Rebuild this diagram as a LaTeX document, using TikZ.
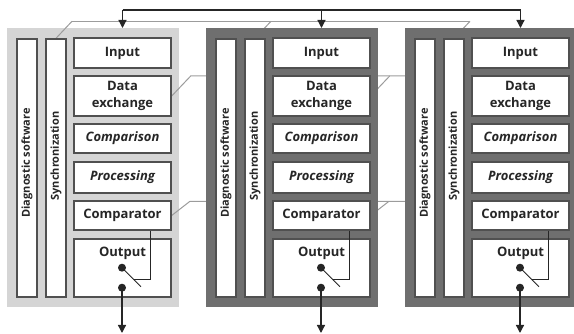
\documentclass[tikz,border=0pt]{standalone}
\usepackage{fontspec}
\setmainfont{Open Sans}
\usetikzlibrary{arrows.meta,calc}
\definecolor{panel}{HTML}{D5D5D5}
\definecolor{frame}{HTML}{6F6F6F}
\definecolor{edge}{HTML}{505050}
\definecolor{bus}{HTML}{9C9C9C}
\definecolor{ink}{HTML}{262626}
\pgfdeclarelayer{back}
\pgfdeclarelayer{wires}
\pgfsetlayers{back,wires,main}

\begin{document}
\begin{tikzpicture}[x=1pt,y=-1pt,>={Triangle[width=8pt,length=8pt]},
  unit/.style={draw=edge,line width=1.4pt,fill=white,minimum width=97,inner sep=0pt,
    font=\fontsize{13}{17}\selectfont\bfseries,text=ink,align=center},
  strip/.style={draw=edge,line width=1.4pt,fill=white,minimum width=20,minimum height=258,inner sep=0pt},
  striptext/.style={rotate=90,font=\fontsize{11}{13}\selectfont\bfseries,text=ink,inner sep=0pt},
  link/.style={bus,line width=1pt},
  wire/.style={ink,line width=1.3pt},
  thinwire/.style={ink,line width=0.9pt},
  dot/.style={fill=ink,circle,inner sep=0pt,minimum size=8}]
\useasboundingbox (0,0) rectangle (574,334);
\clip (0,0) rectangle (574,334);
\coordinate (rail) at (0,10);
\coordinate (floor) at (0,333);
% three identical channels, the first one on a light panel
\foreach \m/\o/\lay/\col in {1/0/back/panel,2/199/main/frame,3/398/main/frame}{
  \begin{scope}[xshift=\o pt]
  \begin{pgfonlayer}{\lay}
    \fill[\col] (7,28) rectangle (179,307);
  \end{pgfonlayer}
  \coordinate (top\m) at (122.5,28);
  \node[strip] (dg\m) at (27,168) {};
  \node[strip] (sy\m) at (56,168) {};
  \node[striptext] (dgt\m) at (27,163) {Diagnostic software};
  \node[striptext] (syt\m) at (56,156) {Synchronization};
  \node[unit,minimum height=30] (in\m) at (122.5,53) {Input};
  \node[unit,minimum height=40] (dx\m) at (122.5,96) {Data\\exchange};
  \node[unit,minimum height=29] (cm\m) at (122.5,138.5) {\itshape Comparison};
  \node[unit,minimum height=31] (pr\m) at (122.5,177.5) {\itshape Processing};
  \node[unit,minimum height=29] (ct\m) at (122.5,215.5) {Comparator};
  \node[unit,minimum height=58,label={[font=\fontsize{13}{17}\selectfont\bfseries,text=ink,
    anchor=north,yshift=-5pt]north:Output}] (out\m) at (122.5,268) {};
  % output switch driven by the comparator
  \node[dot] (du\m) at ($(out\m.south)+(-0.5,-30)$) {};
  \node[dot] (dl\m) at ($(out\m.south)+(-0.5,-10)$) {};
  \draw[thinwire] (du\m.center) -- ++(19,19) coordinate (se\m);
  \coordinate (sw\m) at ($(du\m.center)!0.62!(se\m)$);
  \draw[thinwire] ($(ct\m.south east)+(-21,0)$) |- (sw\m);
  \draw[wire,->] (dl\m.center) -- (dl\m.center |- floor);
  % links between channels
  \begin{pgfonlayer}{wires}
    \draw[link] (sy\m.north) -- ++(16,-17) coordinate (sb\m);
    \draw[link] (dx\m.east) -- ++(19,-20) -- ++(199,0);
    \draw[link] (ct\m.east) -- ++(18,-14) -- ++(199,0);
  \end{pgfonlayer}
  \end{scope}
}
\begin{pgfonlayer}{wires}
  \draw[link] (sb1) -- (sb3);
\end{pgfonlayer}
% common input rail
\draw[wire] (top1 |- rail) -- (top3 |- rail);
\foreach \m in {1,2,3}
  \draw[wire,->] (top\m |- rail) -- (top\m);
\end{tikzpicture}
\end{document}
